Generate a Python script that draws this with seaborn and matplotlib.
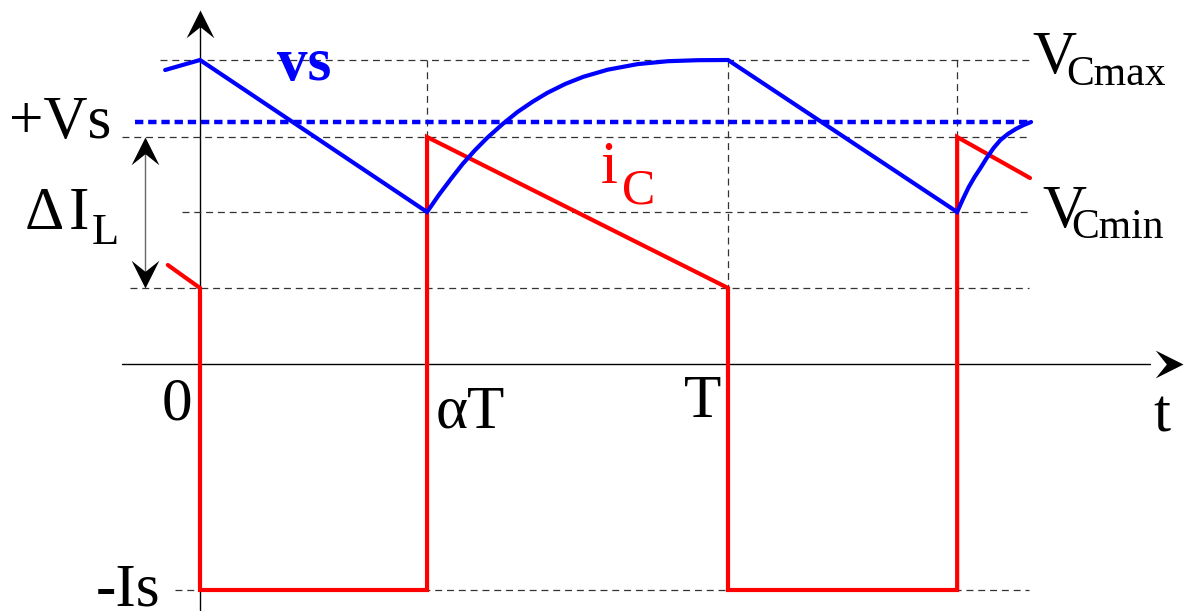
"""
Boost converter waveforms: source voltage vs and capacitor current iC
"""

import matplotlib
matplotlib.use("Agg")
import matplotlib.pyplot as plt
from matplotlib.path import Path
import seaborn as sns
import pandas as pd

# Time in units of the period T, values in arbitrary units
ALPHA = 0.43
T2 = 1.434

# vs waveform (blue)
vs_t = [-0.066, 0.0, ALPHA,
        0.453, 0.476, 0.498, 0.521, 0.544, 0.573, 0.601, 0.630, 0.658,
        0.692, 0.726, 0.772, 0.829, 0.886, 0.943, 1.0,
        T2, 1.445, 1.456, 1.467, 1.477, 1.490, 1.503, 1.516, 1.530,
        1.545, 1.560, 1.574]
vs_v = [2.95, 3.05, 1.53,
        1.705, 1.866, 2.014, 2.149, 2.272, 2.409, 2.529, 2.633, 2.722,
        2.811, 2.882, 2.953, 3.009, 3.038, 3.048, 3.05,
        1.53, 1.66, 1.78, 1.88, 1.96, 2.07, 2.17, 2.25, 2.31,
        2.36, 2.40, 2.43]

# iC waveform (red)
ic_t = [-0.061, 0.0, 0.0, ALPHA, ALPHA, 1.0, 1.0, T2, T2, 1.572]
ic_v = [1.00, 0.77, -2.25, -2.25, 2.28, 0.77, -2.25, -2.25, 2.28, 1.87]

# reference levels
VS_LEVEL = 2.43
level_names = ["VCmax", "IC top", "VCmin", "IC bottom", "-Is"]
level_v = [3.05, 2.28, 1.53, 0.77, -2.25]
level_start = [-0.076, -0.148, -0.034, -0.133, -0.047]
level_end = 1.57

# vertical guides: time, from, to
vguide_t = [ALPHA, 1.0, T2]
vguide_top = [3.05, 3.05, 3.05]
vguide_bottom = [2.28, 0.77, 2.28]

sns.set_theme(style="white")
plt.rcParams["font.family"] = ["Liberation Serif", "DejaVu Serif"]
plt.rcParams["text.color"] = "black"
plt.rcParams["lines.scale_dashes"] = False
plt.rcParams["lines.solid_joinstyle"] = "miter"

BLUE = "#0000ff"
RED = "#ff0000"
GUIDE = "#333333"

# stealth style arrow heads (tip at origin)
UP_HEAD = Path([(0, 0), (0.5, -1), (0, -0.6), (-0.5, -1), (0, 0)], closed=True)
DOWN_HEAD = Path([(0, 0), (0.5, 1), (0, 0.6), (-0.5, 1), (0, 0)], closed=True)
RIGHT_HEAD = Path([(0, 0), (-1, 0.5), (-0.6, 0), (-1, -0.5), (0, 0)], closed=True)


def head(ax, x, y, shape):
    ax.plot([x], [y], marker=shape, ms=40, color="black", mew=0, ls="none", zorder=5)


def main():
    fig = plt.figure(figsize=(11.84, 6.11), dpi=100)
    ax = fig.add_axes([0, 0, 1, 1])

    # axes with arrows
    ax.plot([0, 0], [-2.45, 3.45], color="black", lw=1.0, zorder=1)
    head(ax, 0, 3.55, UP_HEAD)
    ax.plot([-0.148, 1.80], [0.01, 0.01], color="black", lw=1.0, zorder=1)
    head(ax, 1.862, 0.01, RIGHT_HEAD)

    # dashed guides
    for v, t0 in zip(level_v, level_start):
        ax.plot([t0, level_end], [v, v], color=GUIDE, lw=0.9, ls=(0, (5, 3.5)), zorder=1)
    for t, top, bot in zip(vguide_t, vguide_top, vguide_bottom):
        ax.plot([t, t], [top, bot], color=GUIDE, lw=0.9, ls=(0, (5, 3.5)), zorder=1)

    # +Vs level
    ax.plot([-0.123, 1.576], [VS_LEVEL, VS_LEVEL], color=BLUE, lw=3.2,
            ls=(0, (6, 3.5)), zorder=2)

    # waveforms
    df_ic = pd.DataFrame({"t": ic_t, "v": ic_v})
    df_vs = pd.DataFrame({"t": vs_t, "v": vs_v})
    sns.lineplot(data=df_ic, x="t", y="v", sort=False, estimator=None,
                 color=RED, lw=3.0, ax=ax, zorder=3)
    sns.lineplot(data=df_vs, x="t", y="v", sort=False, estimator=None,
                 color=BLUE, lw=3.0, ax=ax, zorder=4)

    # delta IL double arrow
    ax.plot([-0.104, -0.104], [2.20, 0.85], color="#666666", lw=1.0, zorder=1)
    head(ax, -0.104, 2.28, UP_HEAD)
    head(ax, -0.104, 0.77, DOWN_HEAD)

    # labels
    big = 44
    kw = dict(ha="left", va="baseline")
    ax.text(0.146, 2.85, "vs", color=BLUE, fontsize=big, fontweight="bold", **kw)
    ax.text(-0.362, 2.27, "+Vs", fontsize=big, **kw)
    ax.text(-0.332, 1.36, "Δ", fontsize=big, **kw)
    ax.text(-0.248, 1.36, "I", fontsize=big, **kw)
    ax.text(-0.205, 1.21, "L", fontsize=32, **kw)
    ax.text(0.759, 1.82, "i", color=RED, fontsize=big, **kw)
    ax.text(0.799, 1.62, "C", color=RED, fontsize=36, **kw)
    ax.text(1.576, 2.92, "V", fontsize=big, **kw)
    ax.text(1.640, 2.80, "Cmax", fontsize=30, **kw)
    ax.text(1.595, 1.38, "V", fontsize=big, **kw)
    ax.text(1.650, 1.27, "Cmin", fontsize=30, **kw)
    ax.text(-0.072, -0.54, "0", fontsize=big, **kw)
    ax.text(0.447, -0.63, "αT", fontsize=big, **kw)
    ax.text(0.917, -0.52, "T", fontsize=big, **kw)
    ax.text(1.805, -0.67, "t", fontsize=big, **kw)
    ax.text(-0.197, -2.40, "-Is", fontsize=big, **kw)

    ax.set_xlim(-200 / 528, 984 / 528)
    ax.set_ylim(-2.46, 3.65)
    ax.axis("off")

    fig.savefig("out.png", dpi=100)
    plt.close(fig)


if __name__ == "__main__":
    main()
